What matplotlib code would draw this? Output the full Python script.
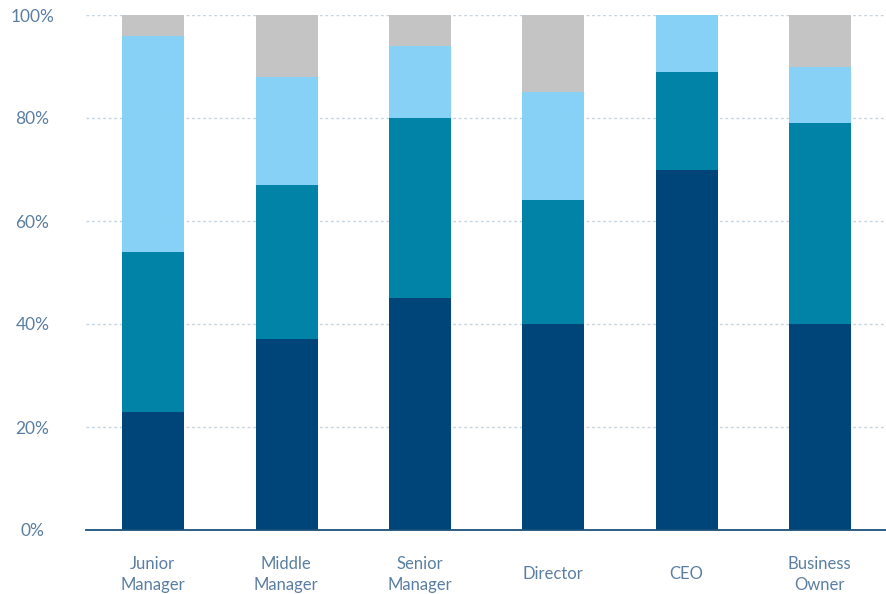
import numpy as np
import matplotlib.pyplot as plt
from matplotlib.ticker import PercentFormatter

plt.rcParams['font.family'] = ['Lato', 'DejaVu Sans']

# 各ポジションの構成比（%）、下から順に積み上げる
roles = ['Junior\nManager', 'Middle\nManager', 'Senior\nManager', 'Director', 'CEO', 'Business\nOwner']
seg_dark = [23, 37, 45, 40, 70, 40]
seg_teal = [31, 30, 35, 24, 19, 39]
seg_light = [42, 21, 14, 21, 11, 11]
seg_gray = [4, 12, 6, 15, 0, 10]

colors = ['#00457a', '#0083a6', '#87d1f7', '#c4c4c4']
text_color = '#5b7fa3'

fig = plt.figure(figsize=(8.86, 5.94), dpi=100)
ax = fig.add_axes([86 / 886, 64 / 594, 800 / 886, 515 / 594])

x = np.arange(len(roles))
bottom = np.zeros(len(roles))
for seg, c in zip([seg_dark, seg_teal, seg_light, seg_gray], colors):
    ax.bar(x + 0.005, seg, bottom=bottom, width=0.465, color=c, zorder=2)
    bottom += np.array(seg)

ax.set_xlim(-0.5, len(roles) - 0.5)
ax.set_ylim(0, 100)
ax.set_yticks([0, 20, 40, 60, 80, 100])
ax.yaxis.set_major_formatter(PercentFormatter(decimals=0))

# 点線グリッド（0%は軸線）
for y in [20, 40, 60, 80, 100]:
    ax.axhline(y, color='#c5d5e2', linestyle=(0, (2, 2)), linewidth=1, zorder=1)

for side in ['top', 'right', 'left']:
    ax.spines[side].set_visible(False)
ax.spines['bottom'].set_color('#1b4f7a')
ax.spines['bottom'].set_linewidth(1.3)
ax.spines['bottom'].set_zorder(3)

ax.set_xticks(x)
ax.set_xticklabels(roles, linespacing=1.45)
ax.tick_params(axis='x', length=0, pad=32, labelsize=12, labelcolor=text_color)
ax.tick_params(axis='y', length=0, pad=38.5, labelsize=12.5, labelcolor=text_color)
for lbl in ax.get_xticklabels():
    lbl.set_verticalalignment('center')
for lbl in ax.get_yticklabels():
    lbl.set_horizontalalignment('center')

fig.savefig('out.png', dpi=100, facecolor='white')
